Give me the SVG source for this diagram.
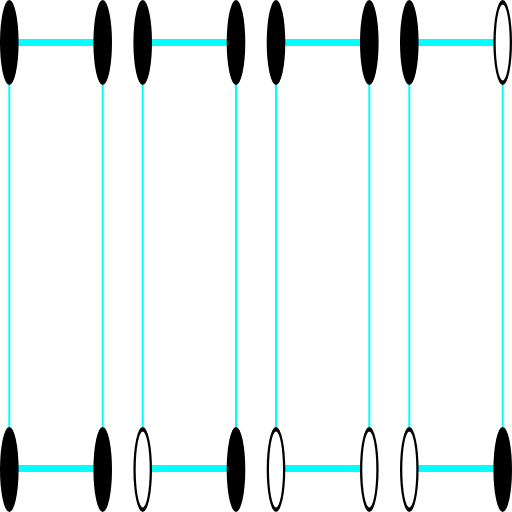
<svg xmlns="http://www.w3.org/2000/svg" width="512" height="512" viewBox="0 0 512 512">
<style>
.v{stroke:#00ffff;stroke-width:2;fill:none}
.h{stroke:#00ffff;stroke-width:7;fill:none}
.f{fill:#000}
.o{fill:#fff}
</style>
<defs>
<g id="full"><ellipse class="f" cx="0" cy="0" rx="9.3" ry="42.5"/></g>
<g id="open"><ellipse class="f" cx="0" cy="0" rx="9.3" ry="42.5"/><ellipse class="o" cx="0" cy="0" rx="7" ry="38"/></g>
</defs>
<g id="connectors">
<line class="v" x1="9.3" y1="42" x2="9.3" y2="469"/>
<line class="v" x1="102.7" y1="42" x2="102.7" y2="469"/>
<line class="v" x1="142.7" y1="42" x2="142.7" y2="469"/>
<line class="v" x1="236" y1="42" x2="236" y2="469"/>
<line class="v" x1="276" y1="42" x2="276" y2="469"/>
<line class="v" x1="369.3" y1="42" x2="369.3" y2="469"/>
<line class="v" x1="409.3" y1="42" x2="409.3" y2="469"/>
<line class="v" x1="502.7" y1="42" x2="502.7" y2="469"/>
<line class="h" x1="9.3" y1="42.5" x2="102.7" y2="42.5"/>
<line class="h" x1="142.7" y1="42.5" x2="236" y2="42.5"/>
<line class="h" x1="276" y1="42.5" x2="369.3" y2="42.5"/>
<line class="h" x1="409.3" y1="42.5" x2="502.7" y2="42.5"/>
<line class="h" x1="9.3" y1="468.5" x2="102.7" y2="468.5"/>
<line class="h" x1="142.7" y1="468.5" x2="236" y2="468.5"/>
<line class="h" x1="276" y1="468.5" x2="369.3" y2="468.5"/>
<line class="h" x1="409.3" y1="468.5" x2="502.7" y2="468.5"/>
</g>
<g id="t1" transform="translate(9.3,42.5)"><use href="#full"/></g>
<g id="t2" transform="translate(102.7,42.5)"><use href="#full"/></g>
<g id="t3" transform="translate(142.7,42.5)"><use href="#full"/></g>
<g id="t4" transform="translate(236,42.5)"><use href="#full"/></g>
<g id="t5" transform="translate(276,42.5)"><use href="#full"/></g>
<g id="t6" transform="translate(369.3,42.5)"><use href="#full"/></g>
<g id="t7" transform="translate(409.3,42.5)"><use href="#full"/></g>
<g id="t8" transform="translate(502.7,42.5)"><use href="#open"/></g>
<g id="b1" transform="translate(9.3,469.5)"><use href="#full"/></g>
<g id="b2" transform="translate(102.7,469.5)"><use href="#full"/></g>
<g id="b3" transform="translate(142.7,469.5)"><use href="#open"/></g>
<g id="b4" transform="translate(236,469.5)"><use href="#full"/></g>
<g id="b5" transform="translate(276,469.5)"><use href="#open"/></g>
<g id="b6" transform="translate(369.3,469.5)"><use href="#open"/></g>
<g id="b7" transform="translate(409.3,469.5)"><use href="#open"/></g>
<g id="b8" transform="translate(502.7,469.5)"><use href="#full"/></g>
</svg>
